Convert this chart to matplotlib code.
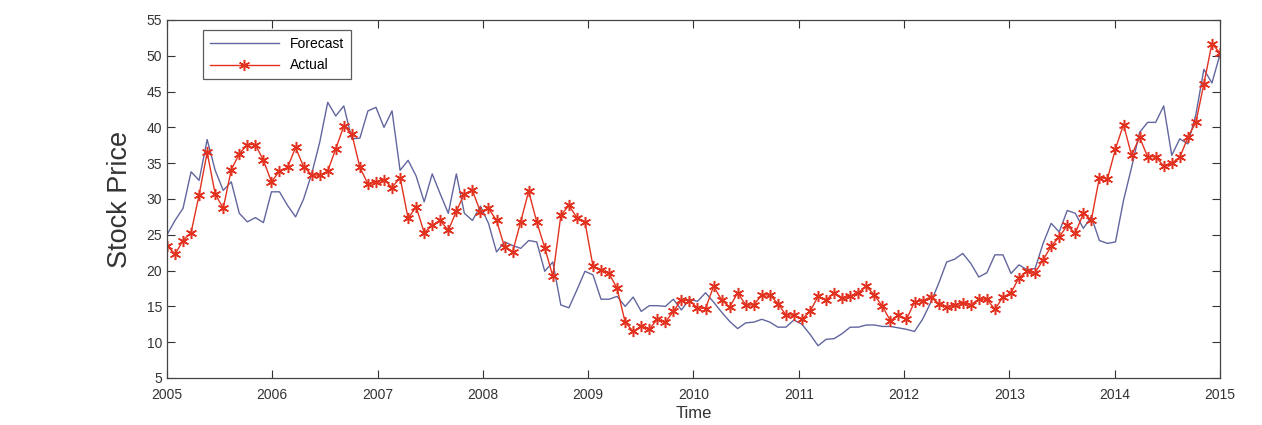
import numpy as np
import matplotlib
matplotlib.use("Agg")
import matplotlib.pyplot as plt

plt.rcParams['font.family'] = ['Liberation Sans', 'DejaVu Sans']

# 4-weekly samples, 2005 .. 2015
n_points = 132
start_year = 2005
end_year = 2015

actual = [23.5, 22.3, 24.2, 25.3, 30.6, 36.5, 30.7, 28.7, 34.1, 36.3,
          37.6, 37.6, 35.4, 32.4, 33.9, 34.4, 37.2, 34.5, 33.4, 33.3,
          33.9, 37.0, 40.2, 39.1, 34.4, 32.1, 32.4, 32.7, 31.6, 33.0,
          27.3, 28.9, 25.3, 26.3, 27.0, 25.6, 28.3, 30.7, 31.2, 28.2,
          28.7, 27.0, 23.3, 22.6, 26.8, 31.1, 26.8, 23.2, 19.2, 27.7,
          29.1, 27.4, 26.8, 20.6, 20.1, 19.6, 17.5, 12.8, 11.5, 12.2,
          11.8, 13.2, 12.8, 14.3, 15.9, 15.8, 14.8, 14.7, 17.8, 15.9,
          14.9, 16.9, 15.2, 15.2, 16.6, 16.6, 15.4, 13.8, 13.8, 13.2,
          14.3, 16.4, 15.9, 16.9, 16.2, 16.4, 16.9, 17.8, 16.6, 15.0,
          13.0, 13.8, 13.2, 15.6, 15.8, 16.3, 15.4, 14.9, 15.2, 15.5,
          15.2, 16.0, 16.0, 14.6, 16.3, 16.9, 19.0, 19.9, 19.7, 21.5,
          23.4, 24.7, 26.3, 25.2, 28.0, 27.1, 33.0, 32.8, 37.0, 40.4,
          36.1, 38.6, 35.9, 35.9, 34.6, 35.0, 35.8, 38.6, 40.7, 46.1,
          51.7, 50.4]

forecast = [25.0, 27.0, 28.7, 33.8, 32.6, 38.3, 34.0, 31.2, 32.4, 28.0,
            26.8, 27.4, 26.7, 31.0, 31.0, 29.1, 27.5, 30.0, 33.5, 37.9,
            43.5, 41.6, 43.0, 38.4, 38.5, 42.3, 42.8, 40.0, 42.3, 34.0,
            35.4, 33.2, 29.6, 33.5, 30.7, 28.0, 33.5, 28.0, 27.0, 29.0,
            26.6, 22.6, 24.0, 23.5, 23.1, 24.2, 24.0, 19.9, 21.2, 15.2,
            14.8, 17.3, 19.9, 19.4, 16.0, 16.0, 16.4, 15.0, 16.3, 14.3,
            15.1, 15.1, 15.0, 16.0, 14.5, 16.0, 15.7, 16.9, 15.6, 14.2,
            12.9, 11.9, 12.7, 12.8, 13.2, 12.8, 12.1, 12.1, 13.1, 12.5,
            11.1, 9.5, 10.4, 10.5, 11.2, 12.1, 12.1, 12.4, 12.4, 12.2,
            12.2, 12.0, 11.8, 11.5, 13.2, 15.5, 18.2, 21.2, 21.6, 22.4,
            21.0, 19.1, 19.7, 22.2, 22.2, 19.6, 20.8, 20.1, 20.3, 23.8,
            26.6, 25.4, 28.4, 28.0, 25.9, 27.5, 24.2, 23.8, 24.0, 29.8,
            34.4, 39.3, 40.7, 40.7, 43.0, 36.1, 38.4, 37.7, 41.8, 48.1,
            46.2, 50.2]

years = list(range(2005, 2016))
yticks = list(range(5, 60, 5))

t = np.linspace(start_year, end_year, n_points)

fig = plt.figure(figsize=(12.62, 4.25), dpi=100)
ax = fig.add_axes([0.1323, 0.1106, 0.8344, 0.8424])

ax.plot(t, forecast, color='#62669e', lw=1.0, label='Forecast')
# matlab style asterisk marker
ax.plot(t, actual, color='#e2321f', lw=1.0, marker=(6, 2, 0), markersize=8,
        markeredgewidth=1.1, label='Actual')

ax.set_xlim(2005, 2015)
ax.set_ylim(5, 55)
ax.set_xticks(years)
ax.set_yticks(yticks)
ax.tick_params(direction='in', top=True, right=True, length=6,
               labelsize=10, colors='#333333', labelcolor='#333333')
ax.tick_params(axis='x', pad=7)
for s in ax.spines.values():
    s.set_color('#444444')
    s.set_linewidth(0.9)

ax.set_xlabel('Time', fontsize=12, color='#333333', labelpad=3)
ax.set_ylabel('Stock Price', fontsize=19.5, color='#333333', labelpad=10)

leg = ax.legend(loc='upper left', bbox_to_anchor=(0.028, 0.99), fontsize=10,
                handlelength=5, frameon=True, fancybox=False, borderpad=0.45,
                labelspacing=0.55)
leg.get_frame().set_edgecolor('#333333')
leg.get_frame().set_linewidth(0.9)

fig.savefig('out.png', dpi=100)
